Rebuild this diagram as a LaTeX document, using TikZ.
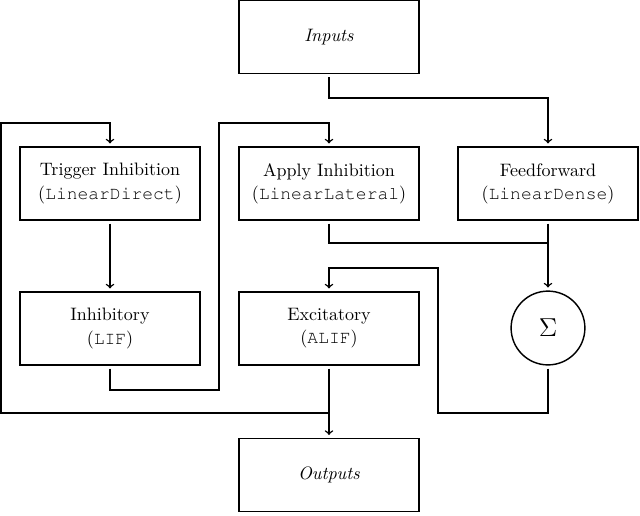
\documentclass[tikz,border=0pt]{standalone}
\newcommand\mycour[1]{{\fontencoding{T1}\fontfamily{pcr}\selectfont #1}}
\begin{document}
\begin{tikzpicture}[x=0.5556pt,y=-0.5556pt,
  box/.style={draw,thick,minimum width=100pt,minimum height=40.5pt,align=center,outer sep=2pt,inner sep=2pt},
  sumnode/.style={draw,thick,circle,minimum size=41pt,outer sep=2pt,inner sep=0pt},
  conn/.style={thick},
  arr/.style={thick,->}]
\useasboundingbox (0,0) rectangle (640,515);
\node[box] (in) at (329,37) {\textit{Inputs}};
\node[box] (trig) at (110,183.5) {Trigger Inhibition\\[0.8pt](\mycour{LinearDirect})};
\node[box] (app) at (329,183.5) {Apply Inhibition\\[0.8pt](\mycour{LinearLateral})};
\node[box] (ff) at (548,183.5) {Feedforward\\[0.8pt](\mycour{LinearDense})};
\node[box] (inh) at (110,328.5) {Inhibitory\\[0.8pt](\mycour{LIF})};
\node[box] (exc) at (329,328.5) {Excitatory\\[0.8pt](\mycour{ALIF})};
\node[sumnode] (sum) at (548,328) {\Large$\Sigma$};
\node[box] (out) at (329,475) {\textit{Outputs}};
\coordinate (c1) at (329,98);
\coordinate (j) at (548,243);
\coordinate (s1) at (548,413);
\coordinate (s2) at (438,413);
\coordinate (s3) at (438,268);
\coordinate (s4) at (329,268);
\coordinate (i1) at (110,390);
\coordinate (i2) at (219,390);
\coordinate (i3) at (219,123);
\coordinate (i4) at (329,123);
\coordinate (o1) at (329,413);
\coordinate (o2) at (1,413);
\coordinate (o3) at (1,123);
\coordinate (o4) at (110,123);
\draw[arr] (in.south) -- (c1) -| (ff.north);
\draw[conn] (app.south) |- (j);
\draw[arr] (ff.south) -- (sum.north);
\draw[arr] (sum.south) -- (s1) -- (s2) -- (s3) -- (s4) -- (exc.north);
\draw[arr] (trig.south) -- (inh.north);
\draw[arr] (inh.south) -- (i1) -- (i2) -- (i3) -- (i4) -- (app.north);
\draw[arr] (exc.south) -- (out.north);
\draw[arr] (o1) -- (o2) -- (o3) -- (o4) -- (trig.north);
\end{tikzpicture}
\end{document}
